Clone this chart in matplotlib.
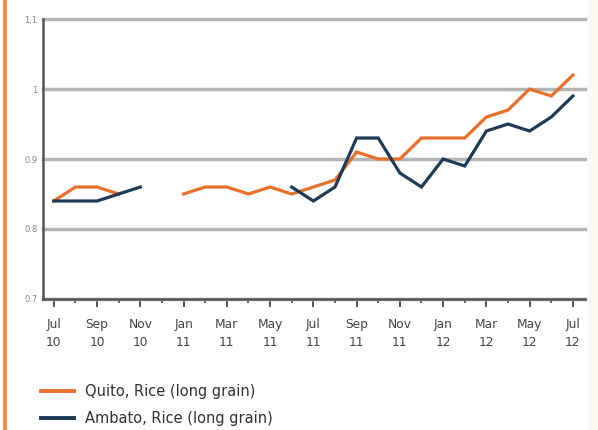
import numpy as np
import matplotlib.pyplot as plt
from matplotlib.lines import Line2D

nan = np.nan

# months Jul 10 .. Jul 12
months = ['Jul\n10', 'Aug\n10', 'Sep\n10', 'Oct\n10', 'Nov\n10', 'Dec\n10',
          'Jan\n11', 'Feb\n11', 'Mar\n11', 'Apr\n11', 'May\n11', 'Jun\n11',
          'Jul\n11', 'Aug\n11', 'Sep\n11', 'Oct\n11', 'Nov\n11', 'Dec\n11',
          'Jan\n12', 'Feb\n12', 'Mar\n12', 'Apr\n12', 'May\n12', 'Jun\n12',
          'Jul\n12']

quito = [0.84, 0.86, 0.86, 0.85, nan, nan,
         0.85, 0.86, 0.86, 0.85, 0.86, 0.85,
         0.86, 0.87, 0.91, 0.90, 0.90, 0.93,
         0.93, 0.93, 0.96, 0.97, 1.00, 0.99,
         1.02]

ambato = [0.84, 0.84, 0.84, 0.85, 0.86, nan,
          nan, nan, nan, nan, nan, 0.86,
          0.84, 0.86, 0.93, 0.93, 0.88, 0.86,
          0.90, 0.89, 0.94, 0.95, 0.94, 0.96,
          0.99]

yticks = [0.7, 0.8, 0.9, 1.0, 1.1]
ylabels = ['0.7', '0.8', '0.9', '1', '1,1']

orange = '#e8702a'
navy = '#1d3a56'

fig = plt.figure(figsize=(5.98, 4.30), dpi=100)
ax = fig.add_axes([0.0719, 0.3047, 0.906, 0.651])

x = np.arange(len(months))
ax.plot(x, quito, color=orange, lw=2.3, solid_joinstyle='miter')
ax.plot(x, ambato, color=navy, lw=2.3, solid_joinstyle='miter')

ax.set_xlim(-0.5, 24.55)
ax.set_ylim(0.7, 1.1)
ax.set_yticks(yticks)
ax.set_yticklabels(ylabels, fontsize=6, color='#888888')
ax.tick_params(axis='y', length=0, pad=4)
ax.grid(axis='y', color='#b5b5b5', lw=2.5, zorder=0)
ax.set_axisbelow(True)
for gl in ax.get_ygridlines():
    gl.set_clip_on(False)

ax.set_xticks(x[::2])
ax.set_xticklabels(months[::2], fontsize=8.8, color='#444444', linespacing=1.45)
ax.set_xticks(x[1::2], minor=True)
ax.tick_params(axis='x', which='major', length=6, width=1.3, color='#444444', pad=8)
ax.tick_params(axis='x', which='minor', length=3, width=1.3, color='#444444')

for s in ['top', 'right']:
    ax.spines[s].set_visible(False)
ax.spines['left'].set_color('#555555')
ax.spines['left'].set_linewidth(1.8)
ax.spines['bottom'].set_color('#555555')
ax.spines['bottom'].set_linewidth(1.8)

# left orange stripe and right beige strip
fig.add_artist(Line2D([0.0084, 0.0084], [0, 1], color='#f08a4b', lw=2.8))
fig.patches.append(plt.Rectangle((0.983, 0), 0.017, 1, transform=fig.transFigure,
                                 color='#fcfaee', zorder=0))

handles = [Line2D([], [], color=orange, lw=2.8), Line2D([], [], color=navy, lw=2.8)]
fig.legend(handles, ['Quito, Rice (long grain)', 'Ambato, Rice (long grain)'],
           loc='upper left', bbox_to_anchor=(0.058, 0.121), frameon=False,
           fontsize=10.5, handlelength=2.3, handletextpad=0.75, labelspacing=0.85,
           labelcolor='#333333', borderaxespad=0)

fig.savefig('out.png', dpi=100)
